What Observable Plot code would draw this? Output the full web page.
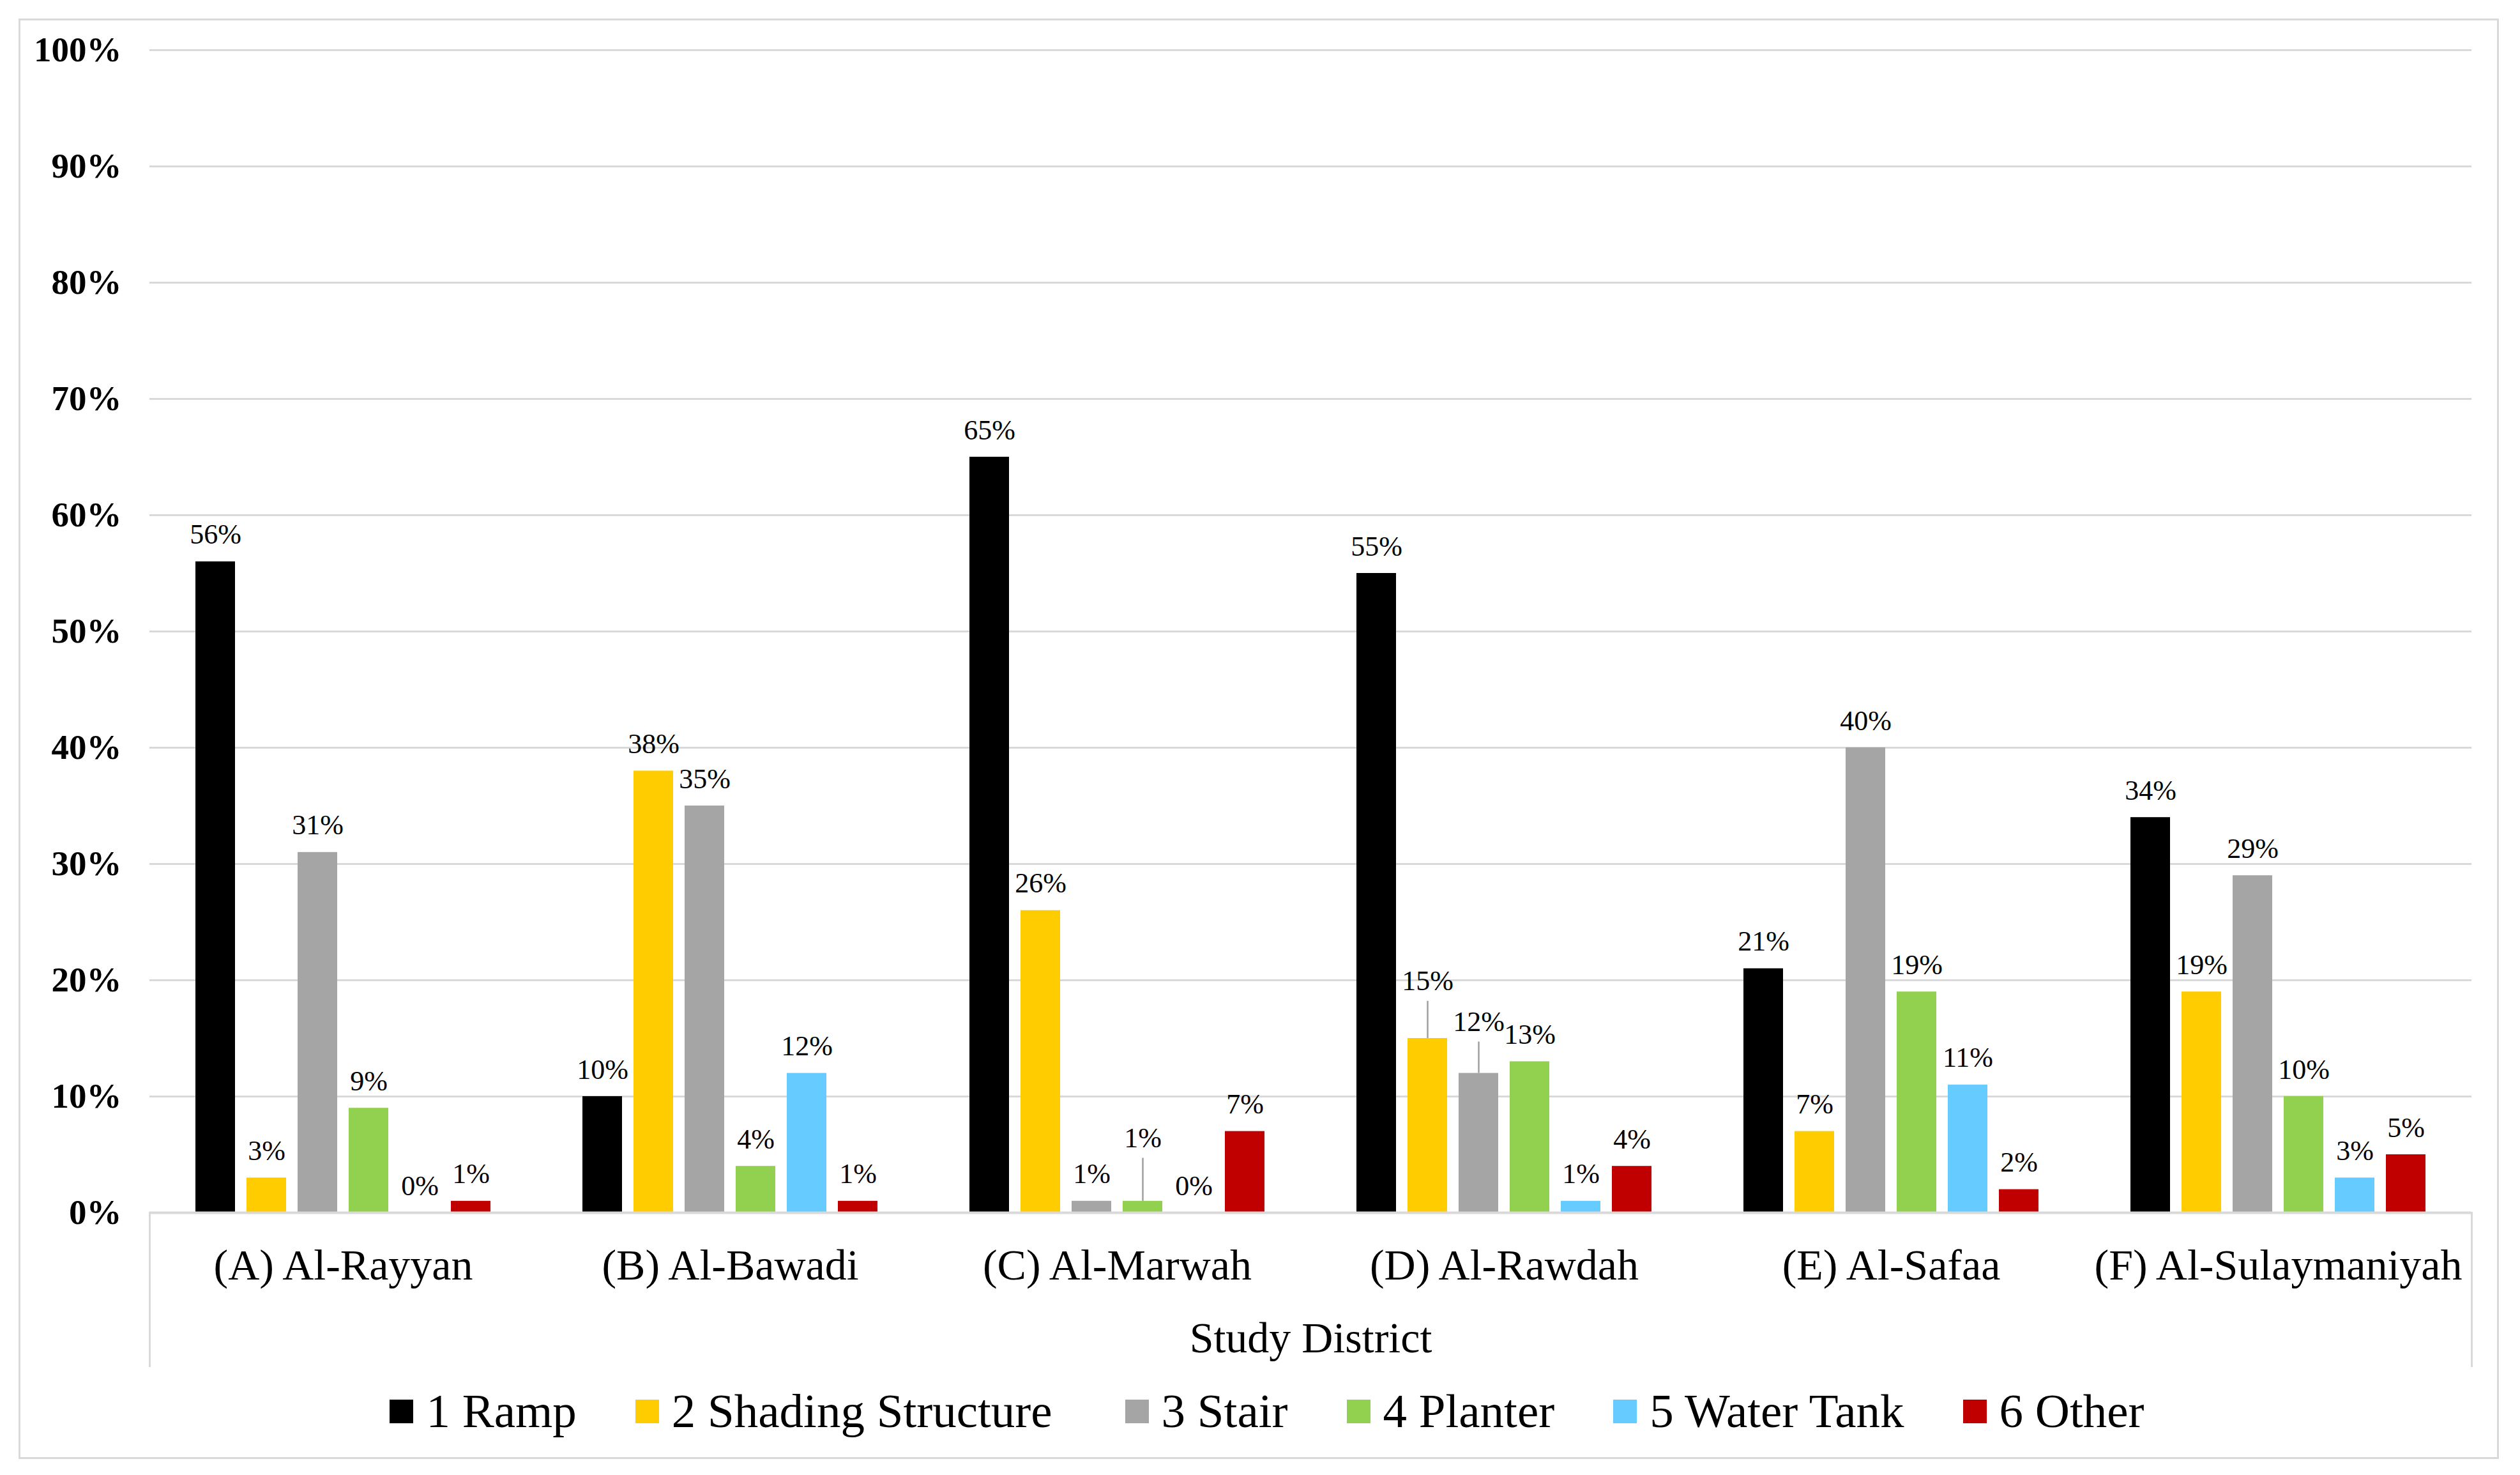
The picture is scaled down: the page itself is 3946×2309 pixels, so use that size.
<!DOCTYPE html>
<html>
<head>
<meta charset="utf-8">
<script src="https://cdn.jsdelivr.net/npm/d3@7"></script>
<script src="https://cdn.jsdelivr.net/npm/@observablehq/plot@0.6"></script>
<style>
  html, body { margin: 0; padding: 0; background: #ffffff; }
  body { position: relative; width: 3946px; height: 2309px; overflow: hidden; font-family: "Liberation Serif", "Times New Roman", serif; }
  #border { position: absolute; left: 29px; top: 29px; width: 3878px; height: 2249px; border: 3px solid #d9d9d9; pointer-events: none; }
  #chart { position: absolute; left: 0; top: 0; }
  #legend { position: absolute; left: 11px; top: 2169px; width: 3946px; height: 80px; display: flex; justify-content: center; align-items: center; gap: 92px; font-size: 75px; color: #000; line-height: 80px; }
  .item { display: flex; align-items: center; gap: 20px; white-space: nowrap; }
  .item.wide { margin-right: 22px; }
  .sw { width: 37px; height: 37px; display: inline-block; }
</style>
</head>
<body>
<div id="chart"></div>
<div id="legend"></div>
<div id="border"></div>
<script>
// ---- Data (values in percent) ----
const districts = ["(A) Al-Rayyan", "(B) Al-Bawadi", "(C) Al-Marwah", "(D) Al-Rawdah", "(E) Al-Safaa", "(F) Al-Sulaymaniyah"];
const categories = ["1 Ramp", "2 Shading Structure", "3 Stair", "4 Planter", "5 Water Tank", "6 Other"];
const colors = ["#000000", "#FFCC00", "#A5A5A5", "#92D050", "#66CCFF", "#C00000"];

const ramp     = [56, 10, 65, 55, 21, 34];
const shading  = [ 3, 38, 26, 15,  7, 19];
const stair    = [31, 35,  1, 12, 40, 29];
const planter  = [ 9,  4,  1, 13, 19, 10];
const tank     = [ 0, 12,  0,  1, 11,  3];
const other    = [ 1,  1,  7,  4,  2,  5];

const yTicks = [0, 10, 20, 30, 40, 50, 60, 70, 80, 90, 100];

// labels lifted above the bar with a leader line (lift in percentage points)
const leaderLabels = [
  {district: "(C) Al-Marwah", category: "4 Planter", lift: 3.1},
  {district: "(D) Al-Rawdah", category: "2 Shading Structure", lift: 2.6},
  {district: "(D) Al-Rawdah", category: "3 Stair", lift: 2.1}
];

// ---- Build table ----
const series = [ramp, shading, stair, planter, tank, other];
const rows = [];
districts.forEach((d, i) => {
  categories.forEach((c, j) => {
    const L = leaderLabels.find(l => l.district === d && l.category === c);
    rows.push({district: d, category: c, value: series[j][i], lift: L ? L.lift : 0});
  });
});
const leaders = rows.filter(r => r.lift > 0);

const W = 3946, H = 2140;
const mTop = 78, mBottom = H - 1898, mLeft = 232, mRight = W - 3871;
const grid = "#d9d9d9";
const FONT = "'Liberation Serif', 'Times New Roman', serif";

const chart = Plot.plot({
  width: W,
  height: H,
  marginTop: mTop,
  marginBottom: mBottom,
  marginLeft: mLeft,
  marginRight: mRight,
  style: {fontFamily: FONT, background: "transparent", color: "#000", fontSize: "44px", overflow: "visible"},
  fx: {domain: districts, padding: 0, label: "Study District"},
  x: {domain: categories, paddingInner: 0.23, paddingOuter: 0.884, axis: null},
  y: {domain: [0, 100], label: null},
  color: {domain: categories, range: colors},
  marks: [
    Plot.gridY(yTicks.filter(t => t > 0), {stroke: grid, strokeOpacity: 1, strokeWidth: 3}),
    Plot.frame({anchor: "left", facetAnchor: "left", stroke: grid, strokeWidth: 3, insetTop: 1898 - mTop, insetBottom: -(H - 1898 - 2)}),
    Plot.frame({anchor: "right", facetAnchor: "right", stroke: grid, strokeWidth: 3, insetTop: 1898 - mTop, insetBottom: -(H - 1898 - 2)}),
    Plot.barY(rows, {fx: "district", x: "category", y: "value", fill: "category"}),
    Plot.ruleY([0], {stroke: grid, strokeWidth: 4}),
    Plot.ruleX(leaders, {fx: "district", x: "category", y1: "value", y2: d => d.value + d.lift + 0.6, stroke: "#a0a0a0", strokeWidth: 2.5}),
    Plot.text(rows, {fx: "district", x: "category", y: d => d.value + d.lift, text: d => d.value + "%", dy: -42, fontSize: 44, fill: "#000"}),
    Plot.axisY({ticks: yTicks, tickFormat: d => d + "%", tickSize: 0, tickPadding: 44, fontSize: 55, fontWeight: "bold", label: null}),
    Plot.axisFx({anchor: "bottom", tickSize: 0, tickPadding: 56, fontSize: 68, label: "Study District", labelAnchor: "center", labelOffset: 218})
  ]
});
document.getElementById("chart").appendChild(chart);

// ---- Legend ----
const legend = document.getElementById("legend");
categories.forEach((c, j) => {
  const item = document.createElement("div");
  item.className = j === 1 ? "item wide" : "item";
  const sw = document.createElement("span");
  sw.className = "sw";
  sw.style.background = colors[j];
  const t = document.createElement("span");
  t.textContent = c;
  item.appendChild(sw);
  item.appendChild(t);
  legend.appendChild(item);
});
</script>
</body>
</html>
